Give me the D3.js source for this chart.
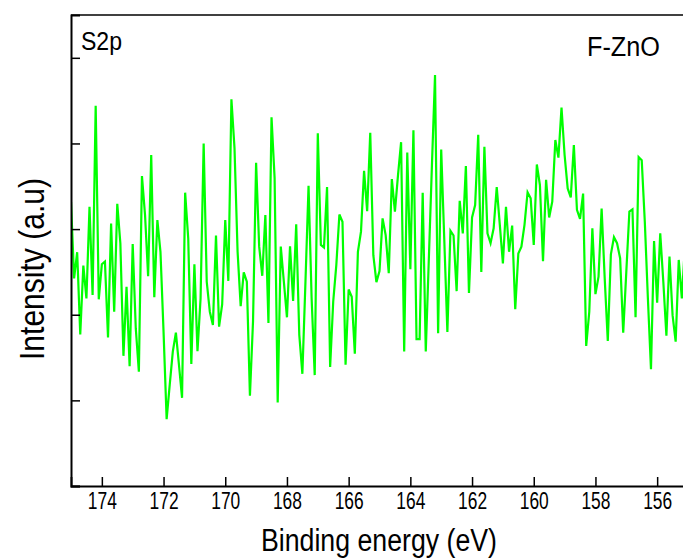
<!DOCTYPE html>
<html>
<head>
<meta charset="utf-8">
<script src="https://cdn.jsdelivr.net/npm/d3@7"></script>
<style>
  body { margin: 0; background: #fff; }
  text { font-family: "Liberation Sans", Arial, sans-serif; fill: #000; }
</style>
</head>
<body>
<div id="chart"></div>
<script>
// S2p spectrum of F-ZnO, 0.1 eV steps starting at 175.0 eV (a.u.)
var energyStart = 175.0,
    energyStep = 0.1;
var intensity = [
  664, 485, 546, 354, 515, 438, 652, 446, 888, 436,
  518, 524, 347, 613, 407, 659, 567, 304, 465, 280,
  565, 368, 267, 724, 633, 490, 773, 441, 621, 547,
  360, 156, 236, 314, 358, 283, 206, 685, 578, 285,
  518, 315, 438, 800, 477, 407, 376, 585, 372, 424,
  621, 479, 903, 789, 547, 420, 499, 477, 211, 384,
  755, 559, 491, 633, 381, 861, 719, 195, 559, 477,
  394, 560, 432, 611, 353, 262, 477, 701, 438, 259,
  824, 563, 557, 698, 278, 431, 516, 634, 617, 283,
  459, 442, 309, 547, 594, 736, 642, 825, 539, 476,
  502, 625, 586, 497, 717, 641, 726, 803, 314, 779,
  506, 831, 343, 343, 685, 314, 532, 750, 960, 357,
  786, 575, 360, 596, 585, 455, 666, 590, 747, 451,
  627, 656, 820, 500, 792, 590, 567, 602, 698, 610,
  520, 652, 547, 608, 413, 543, 559, 610, 686, 672,
  563, 751, 703, 525, 715, 627, 664, 808, 767, 884,
  773, 695, 674, 796, 645, 624, 683, 327, 407, 602,
  448, 489, 648, 485, 339, 541, 581, 567, 532, 358,
  500, 641, 646, 394, 768, 761, 617, 438, 273, 572,
  428, 590, 477, 351, 536, 399, 337, 528, 438, 560,
  500
];
var xDomain = [175, 155];
var yDomain = [0, 1100];
var xMajor = [174, 172, 170, 168, 166, 164, 162, 160, 158, 156];
var xMinor = [175, 173, 171, 169, 167, 165, 163, 161, 159, 157, 155];
var yMajor = [0, 200, 400, 600, 800, 1000];
var yMinor = [100, 300, 500, 700, 900, 1100];

var W = 683, H = 559;
var mLeft = 71, mTop = 15, mBottom = 486, mRight = 688;

var data = intensity.map(function(v, i) {
  return { e: energyStart - i * energyStep, v: v };
});

var x = d3.scaleLinear().domain(xDomain).range([mLeft, mRight]);
var y = d3.scaleLinear().domain(yDomain).range([mBottom, mTop]);

var svg = d3.select("#chart").append("svg")
    .attr("width", W)
    .attr("height", H);

svg.append("defs").append("clipPath").attr("id", "plot")
  .append("rect")
    .attr("x", mLeft).attr("y", mTop)
    .attr("width", mRight - mLeft).attr("height", mBottom - mTop);

var line = d3.line()
    .x(function(d) { return x(d.e); })
    .y(function(d) { return y(d.v); });

svg.append("path")
    .datum(data)
    .attr("clip-path", "url(#plot)")
    .attr("fill", "none")
    .attr("stroke", "#00ff00")
    .attr("stroke-width", 2.2)
    .attr("stroke-linejoin", "miter")
    .attr("d", line);

// top frame
svg.append("line")
    .attr("x1", mLeft).attr("x2", W)
    .attr("y1", mTop).attr("y2", mTop)
    .attr("stroke", "#000").attr("stroke-width", 1.5);

// bottom axis, ticks inward
var gx = svg.append("g").attr("transform", "translate(0," + mBottom + ")");
gx.call(d3.axisBottom(x).tickValues(xMinor).tickSize(-5).tickFormat(""));
gx.call(d3.axisBottom(x).tickValues(xMajor).tickSize(-9).tickPadding(7).tickFormat(d3.format("d")));
gx.selectAll(".domain").attr("stroke-width", 1.8);
gx.selectAll(".tick line").attr("stroke-width", 1.5);
gx.selectAll(".tick text")
    .attr("font-size", 23)
    .attr("font-family", null)
    .attr("textLength", 29)
    .attr("lengthAdjust", "spacingAndGlyphs");

// left axis, ticks inward, no labels
var gy = svg.append("g").attr("transform", "translate(" + mLeft + ",0)");
gy.call(d3.axisLeft(y).tickValues(yMinor).tickSize(-5).tickFormat(""));
gy.call(d3.axisLeft(y).tickValues(yMajor).tickSize(-9).tickFormat(""));
gy.selectAll(".domain").attr("stroke-width", 2);
gy.selectAll(".tick line").attr("stroke-width", 1.5);

svg.append("text")
    .attr("x", 81).attr("y", 50)
    .attr("font-size", 25)
    .attr("textLength", 41).attr("lengthAdjust", "spacingAndGlyphs")
    .text("S2p");

svg.append("text")
    .attr("x", 587).attr("y", 56)
    .attr("font-size", 27)
    .attr("textLength", 73).attr("lengthAdjust", "spacingAndGlyphs")
    .text("F-ZnO");

svg.append("text")
    .attr("x", 379).attr("y", 551)
    .attr("text-anchor", "middle")
    .attr("font-size", 31)
    .attr("textLength", 236).attr("lengthAdjust", "spacingAndGlyphs")
    .text("Binding energy (eV)");

svg.append("text")
    .attr("transform", "translate(44,269) rotate(-90)")
    .attr("text-anchor", "middle")
    .attr("font-size", 35)
    .attr("textLength", 182).attr("lengthAdjust", "spacingAndGlyphs")
    .text("Intensity (a.u)");
</script>
</body>
</html>
